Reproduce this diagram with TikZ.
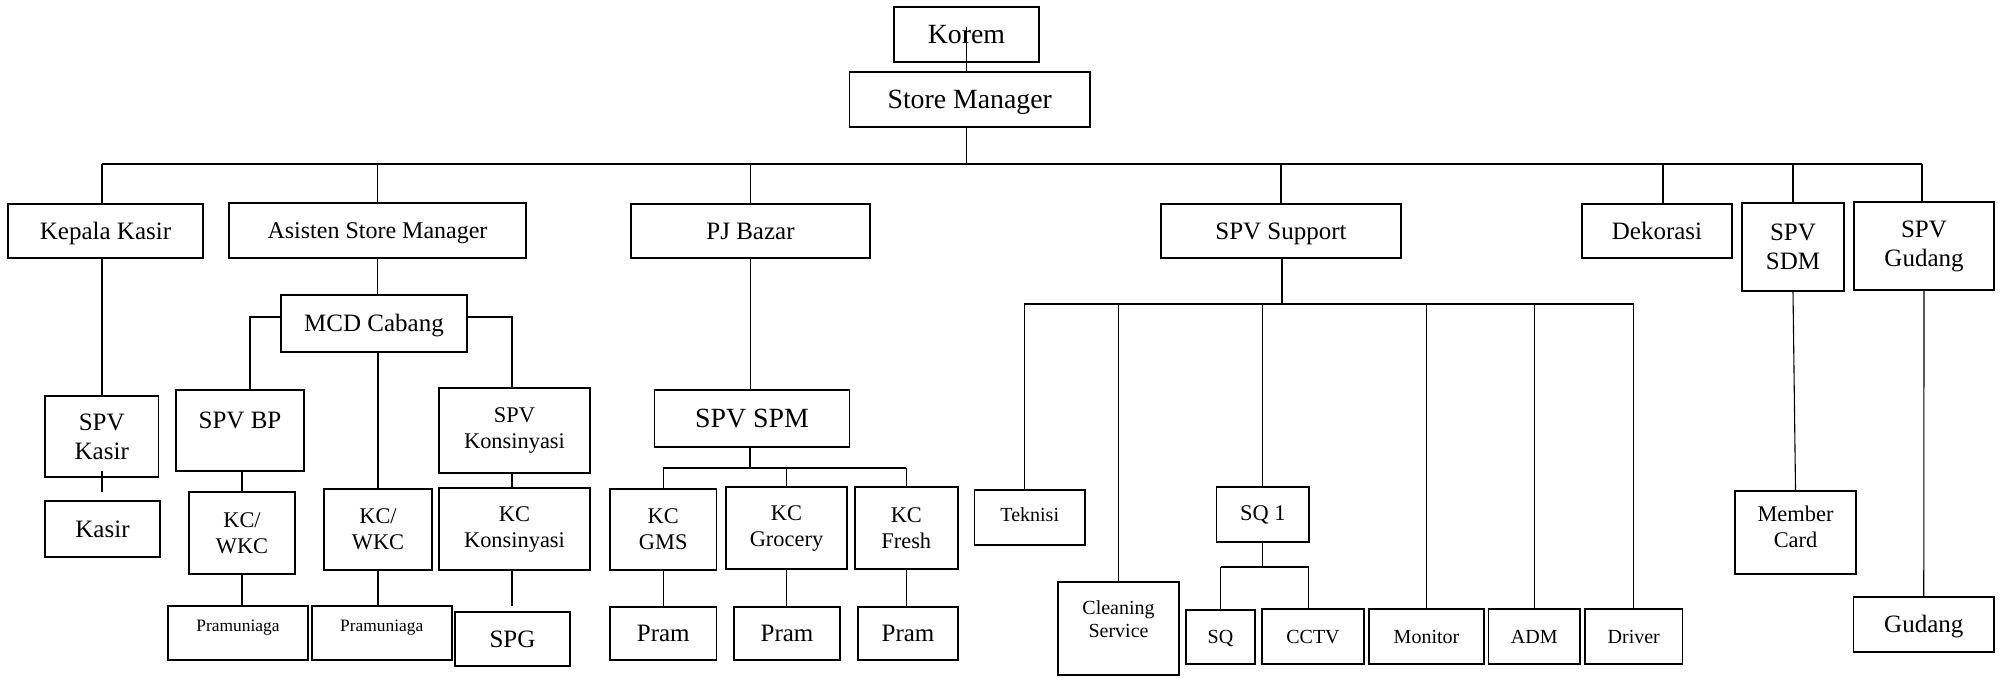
\documentclass[tikz,border=0pt]{standalone}
\usepackage{fontspec}
\setmainfont{Liberation Serif}
\newcommand\fA{\fontsize{13.9}{16}\selectfont}
\newcommand\fB{\fontsize{12.5}{14.5}\selectfont}
\newcommand\fBs{\fontsize{12}{14}\selectfont}
\newcommand\fC{\fontsize{11.2}{13}\selectfont}
\newcommand\fD{\fontsize{10}{11.6}\selectfont}
\newcommand\fE{\fontsize{8.7}{10.4}\selectfont}
\tikzset{
  box/.style={draw, line width=0.9pt, inner sep=0pt, align=center, font=\fB},
  conn/.style={line width=0.55pt},
  oneA/.style={font=\fA, text height=9.2pt, text depth=0pt},
  oneB/.style={font=\fB, text height=8.28pt, text depth=0pt},
  oneBs/.style={font=\fBs, text height=7.94pt, text depth=0pt},
  oneC/.style={font=\fC, text height=7.41pt, text depth=0pt},
  oneD/.style={font=\fD, text height=6.62pt, text depth=0pt},
}
% #1 extra style, #2 name, #3 x1, #4 y1, #5 x2, #6 y2, #7 text
\newcommand{\bx}[7][]{%
  \node[box,#1,minimum width={(#5-#3)*0.5pt},minimum height={(#6-#4)*0.5pt}]
    (#2) at ({(#3+#5)/2},{(#4+#6)/2}) {#7};}
\begin{document}
\begin{tikzpicture}[x=0.5pt,y=-0.5pt]
\useasboundingbox (0,0) rectangle (2001,677);
% level 0
\bx[oneA]{korem}{894}{7}{1039}{62}{Korem}
\bx[oneA]{sm}{849.5}{72}{1090}{127}{Store Manager}
% level 1
\bx[oneB]{kk}{8}{204}{203}{258}{Kepala Kasir}
\bx[oneBs]{asm}{229}{203}{526}{258}{Asisten Store Manager}
\bx[oneB]{pj}{631}{204}{870}{258}{PJ Bazar}
\bx[oneB]{sup}{1161}{204}{1401}{258}{SPV Support}
\bx[oneB]{dek}{1582}{204}{1732}{258}{Dekorasi}
\bx{sdm}{1742}{203}{1844}{291}{SPV\\SDM}
\bx{sgd}{1854}{202}{1994}{290}{SPV\\Gudang}
% kasir branch
\bx{spvk}{45}{396}{158.5}{477}{SPV\\Kasir}
\bx[oneB]{kasir}{45}{501}{160}{557}{Kasir}
% asisten branch
\bx[oneB]{mcd}{281}{295}{467}{352}{MCD Cabang}
\bx[text height=8.3pt,text depth=10pt]{spvbp}{176}{390}{304}{471}{SPV BP}
\bx[font=\fC]{kc1}{189}{492}{295}{574}{KC/\\WKC}
\bx[font=\fE,text height=5.76pt,text depth=7pt]{pram1}{168}{606}{308}{660}{Pramuniaga}
\bx[font=\fC]{kc2}{324}{489}{432}{570}{KC/\\WKC}
\bx[font=\fE,text height=5.76pt,text depth=7pt]{pram2}{311.6}{606}{452}{660}{Pramuniaga}
\bx[font=\fC]{spvkon}{439}{388}{590}{473}{SPV\\Konsinyasi}
\bx[font=\fC]{kckon}{439}{488}{590}{570}{KC\\Konsinyasi}
\bx[oneB]{spg}{455}{612}{570}{666}{SPG}
% PJ bazar branch
\bx[oneA]{spm}{654.5}{390}{849.5}{447}{SPV SPM}
\bx[font=\fC]{kcg}{610}{489}{716.5}{570}{KC\\GMS}
\bx[font=\fC]{kcgr}{726}{487}{847}{569}{KC\\Grocery}
\bx[font=\fC]{kcf}{855}{487}{957.6}{569}{KC\\Fresh}
\bx[oneB]{p1}{610}{607}{716.5}{660}{Pram}
\bx[oneB]{p2}{734}{607}{840}{660}{Pram}
\bx[oneB]{p3}{858}{607}{958}{660}{Pram}
% support branch
\bx[oneD,text depth=2.5pt]{tek}{974.5}{490}{1085}{545}{Teknisi}
\bx[font=\fD]{cs}{1058}{582}{1179}{675}{\begin{tabular}{@{}c@{}}Cleaning\\Service\\[7.5pt]\end{tabular}}
\bx[oneC,text depth=1pt]{sq1}{1216.5}{487}{1309}{542}{SQ 1}
\bx[oneD]{sq}{1186}{610}{1255}{664}{SQ}
\bx[oneD]{cctv}{1262}{609}{1364}{664}{CCTV}
\bx[oneD]{mon}{1369}{609}{1484}{664}{Monitor}
\bx[oneD]{adm}{1488.5}{609}{1580}{664}{ADM}
\bx[oneD]{drv}{1585}{609}{1682.5}{664}{Driver}
% SDM and gudang
\bx[font=\fC]{mc}{1735}{491}{1856}{574}{\begin{tabular}{@{}c@{}}Member\\Card\\[3pt]\end{tabular}}
\bx[oneB]{gud}{1853.5}{597}{1994}{652}{Gudang}

% ---- connectors ----
\draw[conn, shorten <=-3.75pt] (korem.center) -- (korem.center |- sm.north);
\coordinate (busL) at (102,164);
\coordinate (busR) at (1922,164);
\draw[conn] (korem.center |- sm.south) -- (korem.center |- busL);
\draw[conn] (busL) -- (busR);
\draw[conn] (busL) -- (busL |- kk.north);
\draw[conn] (asm.north |- busL) -- (asm.north);
\draw[conn] (pj.north |- busL) -- (pj.north);
\draw[conn] (sup.north |- busL) -- (sup.north);
\draw[conn] ([xshift=3pt]dek.north |- busL) -- ([xshift=3pt]dek.north);
\draw[conn] (sdm.north |- busL) -- (sdm.north);
\draw[conn] (busR) -- (busR |- sgd.north);
% kasir
\draw[conn] (kk.south -| busL) -- (spvk.north -| busL);
\draw[conn, shorten <=-3.5pt, shorten >=4pt] (spvk.south -| busL) -- (kasir.north -| busL);
% asisten
\draw[conn] (asm.south) -- (asm.south |- mcd.north);
\coordinate (mL) at (250,317);
\coordinate (mR) at (512,317);
\draw[conn] (mcd.west |- mL) -- (mL) -- (mL |- spvbp.north);
\draw[conn] (mcd.east |- mR) -- (mR) -- (mR |- spvkon.north);
\draw[conn] (kc2.north |- mcd.south) -- (kc2.north);
\draw[conn] (kc1.north |- spvbp.south) -- (kc1.north);
\draw[conn] (kc1.south) -- (kc1.south |- pram1.north);
\draw[conn] (kc2.south) -- (kc2.south |- pram2.north);
\draw[conn] (spvkon.south -| mR) -- (kckon.north -| mR);
\draw[conn, shorten >=2.5pt] (kckon.south -| mR) -- (spg.north -| mR);
% PJ bazar
\draw[conn] (pj.south) -- (pj.south |- spm.north);
\coordinate (sb) at (750,468);
\draw[conn] (spm.south -| sb) -- (sb);
\draw[conn] (kcg.north |- sb) -- (kcf.north |- sb);
\draw[conn] (kcg.north |- sb) -- (kcg.north);
\draw[conn] (kcgr.north |- sb) -- (kcgr.north);
\draw[conn] (kcf.north |- sb) -- (kcf.north);
\draw[conn] (kcg.south) -- (kcg.south |- p1.north);
\draw[conn] (kcgr.south) -- (kcgr.south |- p2.north);
\draw[conn] (kcf.south) -- (kcf.south |- p3.north);
% support
\coordinate (ub) at (1282,304);
\draw[conn] (sup.south -| ub) -- (ub);
\draw[conn] ([xshift=-2.75pt]tek.north |- ub) -- (drv.north |- ub);
\draw[conn] ([xshift=-2.75pt]tek.north |- ub) -- ([xshift=-2.75pt]tek.north);
\draw[conn] (cs.north |- ub) -- (cs.north);
\draw[conn] (sq1.north |- ub) -- (sq1.north);
\draw[conn] (mon.north |- ub) -- (mon.north);
\draw[conn] (adm.north |- ub) -- (adm.north);
\draw[conn] (drv.north |- ub) -- (drv.north);
\coordinate (qb) at (1265,567);
\draw[conn] (sq1.south) -- (sq1.south |- qb);
\draw[conn] (sq.north |- qb) -- ([xshift=-2.25pt]cctv.north |- qb);
\draw[conn] (sq.north |- qb) -- (sq.north);
\draw[conn] ([xshift=-2.25pt]cctv.north |- qb) -- ([xshift=-2.25pt]cctv.north);
% SDM, gudang
\draw[conn] (sdm.south) -- (mc.north);
\draw[conn] (sgd.south) -- (gud.north);
\end{tikzpicture}
\end{document}
